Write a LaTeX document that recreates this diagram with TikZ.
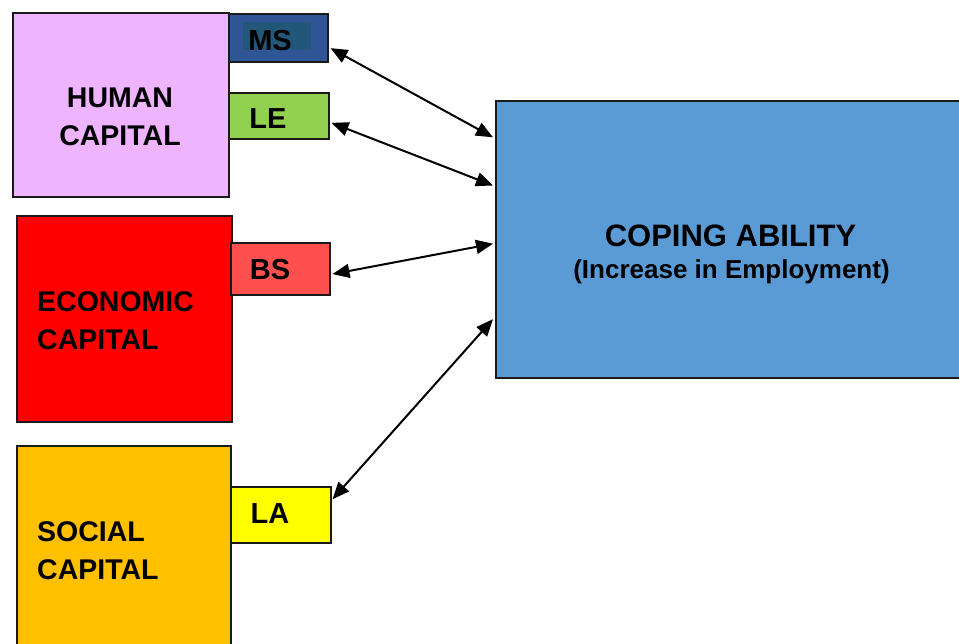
\documentclass[tikz,border=0pt]{standalone}
\usepackage{fontspec}
\setmainfont{Liberation Sans}
\usetikzlibrary{arrows.meta,calc}
\definecolor{humanpink}{HTML}{EEB4FF}
\definecolor{msblue}{HTML}{2F5597}
\definecolor{msinner}{HTML}{22577A}
\definecolor{legreen}{HTML}{92D050}
\definecolor{econred}{HTML}{FF0000}
\definecolor{bsred}{HTML}{FF5050}
\definecolor{socialgold}{HTML}{FFC000}
\definecolor{layellow}{HTML}{FFFF00}
\definecolor{copingblue}{HTML}{5B9BD5}
\definecolor{edge}{HTML}{1A1A1A}
\tikzset{
  block/.style={draw=edge, line width=1.5pt, inner sep=0pt, anchor=north west},
  bigtext/.style={font=\fontsize{28.5}{38}\selectfont\bfseries, inner sep=0pt, align=left},
  tagtext/.style={font=\fontsize{29}{32}\selectfont\bfseries, inner sep=0pt},
  link/.style={line width=2pt, {Triangle[length=17pt,width=14pt]}-{Triangle[length=17pt,width=14pt]}}
}
\begin{document}
\begin{tikzpicture}[x=1pt,y=-1pt]
\clip (0,0) rectangle (959,643);
\fill[white] (0,0) rectangle (959,643);

% capital blocks
\node[block, fill=humanpink, minimum width=216pt, minimum height=184pt] (human) at (12,12) {};
\node[block, fill=econred, minimum width=215pt, minimum height=206pt] (econ) at (16,215) {};
\node[block, fill=socialgold, minimum width=214pt, minimum height=230pt] (social) at (16,445) {};

% indicator tags
\node[block, fill=msblue, minimum width=99pt, minimum height=48pt] (ms) at (228,13) {};
\fill[msinner] (243,22) rectangle (311,50);
\node[tagtext] (mstext) at (270,41) {MS};
\node[block, fill=legreen, minimum width=100pt, minimum height=46pt] (le) at (228,92) {};
\node[tagtext] (letext) at (268,119) {LE};
\node[block, fill=bsred, minimum width=99pt, minimum height=52pt] (bs) at (230,242) {};
\node[tagtext] (bstext) at (270,270) {BS};
\node[block, fill=layellow, minimum width=100pt, minimum height=56pt] (la) at (230,486) {};
\node[tagtext] (latext) at (270,514) {LA};

% capital labels
\node[bigtext, align=center] (humantext) at (120,117) {HUMAN\\CAPITAL};
\node[bigtext, anchor=west] (econtext) at (37,321) {ECONOMIC\\CAPITAL};
\node[bigtext, anchor=west] (socialtext) at (37,551) {SOCIAL\\CAPITAL};

% outcome block
\node[block, fill=copingblue, minimum width=476pt, minimum height=277pt] (coping) at (495,100) {};
\node[inner sep=0pt, anchor=base, font=\fontsize{31}{36}\selectfont\bfseries]
  (copingtitle) at (730.5,246) {COPING ABILITY};
\node[inner sep=0pt, anchor=base, font=\fontsize{26}{30}\selectfont\bfseries]
  (copingsub) at (731.5,278) {(Increase in Employment)};

% two-way links
\draw[link] ($(ms.north east)!0.71!(ms.south east)+(2,0)$) -- ($(coping.north west)!0.134!(coping.south west)+(-2,0)$);
\draw[link] ($(le.north east)!0.65!(le.south east)+(2,0)$) -- ($(coping.north west)!0.307!(coping.south west)+(-2,0)$);
\draw[link] ($(bs.north east)!0.6!(bs.south east)+(2,0)$) -- ($(coping.north west)!0.516!(coping.south west)+(-2,0)$);
\draw[link] ($(la.north east)!0.23!(la.south east)+(1,0)$) -- ($(coping.north west)!0.787!(coping.south west)+(-2,0)$);
\end{tikzpicture}
\end{document}
